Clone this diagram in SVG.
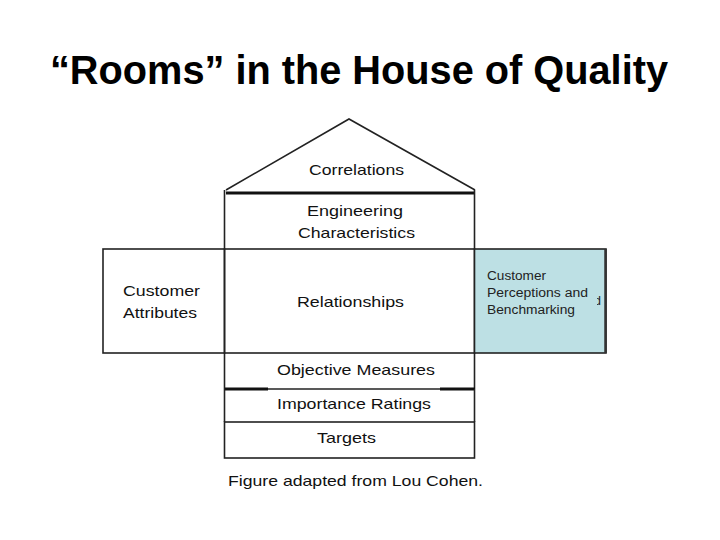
<svg xmlns="http://www.w3.org/2000/svg" width="720" height="540" viewBox="0 0 720 540">
<style>
.t{font-family:"Liberation Sans",Arial,sans-serif;font-size:15px;fill:#111}
.s{font-family:"Liberation Sans",Arial,sans-serif;font-size:12.5px;fill:#222}
.ln{stroke:#222;stroke-width:1.6;fill:none}
.thick{stroke:#111;stroke-width:3;fill:none}
</style>
<defs>
<clipPath id="dclip"><rect x="597" y="285" width="9" height="25"/></clipPath>
</defs>
<rect width="720" height="540" fill="#ffffff"/>
<g id="title">
<text x="359" y="84" text-anchor="middle" font-family="'Liberation Sans',Arial,sans-serif" font-size="40" font-weight="bold" fill="#000" textLength="618" lengthAdjust="spacingAndGlyphs">“Rooms” in the House of Quality</text>
</g>
<g id="correlations">
<polyline class="ln" points="226,190 349,119 475,190" stroke="#333" stroke-width="1.5"/>
<line class="thick" x1="226" y1="193" x2="475" y2="193"/>
<text class="t" x="309" y="175" textLength="95" lengthAdjust="spacingAndGlyphs">Correlations</text>
</g>
<g id="engineering-characteristics">
<line class="ln" x1="224.5" y1="190" x2="224.5" y2="249"/>
<line class="ln" x1="474.5" y1="190" x2="474.5" y2="249"/>
<text class="t" x="307" y="216" textLength="96" lengthAdjust="spacingAndGlyphs">Engineering</text>
<text class="t" x="298" y="238" textLength="117" lengthAdjust="spacingAndGlyphs">Characteristics</text>
</g>
<g id="customer-attributes">
<rect class="ln" x="103" y="249" width="121.5" height="104"/>
<text class="t" x="123" y="296" textLength="77" lengthAdjust="spacingAndGlyphs">Customer</text>
<text class="t" x="123" y="318" textLength="74" lengthAdjust="spacingAndGlyphs">Attributes</text>
</g>
<g id="relationships">
<rect class="ln" x="224.5" y="249" width="250" height="104"/>
<text class="t" x="297" y="307" textLength="107" lengthAdjust="spacingAndGlyphs">Relationships</text>
</g>
<g id="customer-perceptions">
<rect x="474.5" y="249" width="131.5" height="104" fill="#bde0e4" stroke="#222" stroke-width="1.6"/>
<line x1="605.5" y1="249" x2="605.5" y2="353" stroke="#333" stroke-width="2.5"/>
<text class="s" x="487" y="280" textLength="59" lengthAdjust="spacingAndGlyphs">Customer</text>
<text class="s" x="487" y="297" textLength="101" lengthAdjust="spacingAndGlyphs">Perceptions and</text>
<text class="s" x="487" y="314" textLength="88" lengthAdjust="spacingAndGlyphs">Benchmarking</text>
<text class="s" x="594" y="305" clip-path="url(#dclip)">d</text>
</g>
<g id="objective-measures">
<line class="ln" x1="224.5" y1="353" x2="224.5" y2="389"/>
<line class="ln" x1="474.5" y1="353" x2="474.5" y2="389"/>
<text class="t" x="277" y="375" textLength="158" lengthAdjust="spacingAndGlyphs">Objective Measures</text>
</g>
<g id="importance-ratings">
<line class="ln" x1="224.5" y1="389" x2="474.5" y2="389"/>
<line class="thick" x1="225" y1="389" x2="268" y2="389"/>
<line class="thick" x1="440" y1="389" x2="475" y2="389"/>
<line class="ln" x1="224.5" y1="389" x2="224.5" y2="422"/>
<line class="ln" x1="474.5" y1="389" x2="474.5" y2="422"/>
<text class="t" x="277" y="409" textLength="154" lengthAdjust="spacingAndGlyphs">Importance Ratings</text>
</g>
<g id="targets">
<rect class="ln" x="224.5" y="422" width="250" height="36" stroke-width="2"/>
<text class="t" x="317" y="443" textLength="59" lengthAdjust="spacingAndGlyphs">Targets</text>
</g>
<g id="caption">
<text class="t" x="228" y="486" font-size="16" textLength="255" lengthAdjust="spacingAndGlyphs">Figure adapted from Lou Cohen.</text>
</g>
<g id="connectors"/>
</svg>
